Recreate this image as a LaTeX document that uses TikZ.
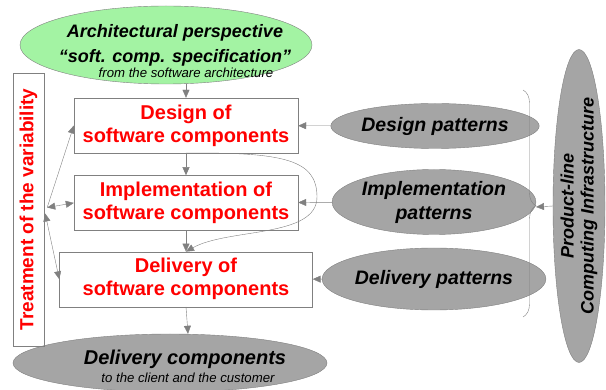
\documentclass[tikz,border=0pt]{standalone}
\usepackage{fontspec}
\setmainfont{Liberation Sans}
\usepackage{xcolor}
\usetikzlibrary{arrows.meta}
\usetikzlibrary{positioning, shapes.geometric, decorations.pathreplacing}

\definecolor{linegray}{RGB}{128,128,128}
\definecolor{patgray}{RGB}{165,165,165}
\definecolor{specgreen}{RGB}{163,243,163}

\begin{document}
\begin{tikzpicture}[x=1pt, y=-1pt,
        stagebox/.style={draw=linegray, minimum width=224pt, minimum height=55pt, inner sep=0pt,
            align=center, text=red, font=\bfseries\fontsize{20}{23}\selectfont},
        pattern/.style={ellipse, draw=linegray, fill=patgray, inner sep=0pt, align=center,
            font=\bfseries\itshape\fontsize{19.5}{24}\selectfont},
        headline/.style={align=center, inner sep=0pt, font=\bfseries\itshape\fontsize{18}{25}\selectfont},
        subline/.style={inner sep=0pt, font=\itshape\fontsize{13.2}{15}\selectfont},
        flow/.style={draw=linegray, -{Triangle[length=8pt, width=7pt]}},
        twoway/.style={draw=linegray, {Triangle[length=8pt, width=7pt]}-{Triangle[length=8pt, width=7pt]}},
    ]
    \useasboundingbox (0,0) rectangle (606,390);

    % architectural perspective (input)
    \node [ellipse, draw=linegray, fill=specgreen, minimum width=292pt, minimum height=78pt] (spec) at (166,45) {};
    \node [headline] (spectext) at (175,45) {Architectural perspective\\“soft. comp. specification”};
    \node [subline, anchor=base] (specsub) at (186,78) {from the software architecture};

    % the three stages
    \node [stagebox] (design) at (186,125.5) {Design of\\software components};
    \node [stagebox, below=22pt of design] (impl) {Implementation of\\software components};
    \node [stagebox, minimum width=253pt, below=21pt of impl] (deliv) {Delivery of\\software components};

    % delivered result
    \node [ellipse, draw=linegray, fill=patgray, minimum width=314pt, minimum height=58pt] (comps) at (170,363) {};
    \node [headline, font=\bfseries\itshape\fontsize{20}{25}\selectfont] (compstext) at (185,359.5) {Delivery components};
    \node [subline, anchor=base] (compssub) at (188,383) {to the client and the customer};

    % variability, drawn rotated
    \node [draw=linegray, rotate=90, minimum width=273pt, minimum height=31pt, inner sep=0pt,
        text=red, font=\bfseries\fontsize{19}{20}\selectfont] (treat) at (28.5,209.5) {Treatment of the variability};

    % patterns
    \node [pattern, minimum width=174pt, minimum height=45pt] (dpat) at (435,126) {Design patterns};
    \node [pattern, minimum width=172pt, minimum height=65pt] (ipat) at (434,202) {Implementation\\patterns};
    \node [pattern, minimum width=173pt, minimum height=62pt] (lpat) at (434,279) {Delivery patterns};

    % infrastructure and brace
    \node [pattern, rotate=90, minimum width=313pt, minimum height=42pt,
        font=\bfseries\itshape\fontsize{18}{20}\selectfont] (infra) at (579,206) {Product-line\\Computing Infrastructure};
    \coordinate (bracetop) at (523,90);
    \coordinate (bracebot) at (523,317);
    \coordinate (bracetip) at (536,207);
    \draw [linegray, decorate, decoration={brace, amplitude=13pt, aspect=0.51}] (bracetop) -- (bracebot);
    \draw [flow] (infra.north) -- (bracetip);

    % main flow
    \draw [flow] (design.north |- spec.south) -- (design.north);
    \draw [flow] (design) -- (impl);
    \draw [flow] (impl) -- (deliv);
    \draw [flow] (deliv.south) -- ([xshift=2pt]deliv.south |- comps.north);
    \draw [flow] (design.south) .. controls (285,152) and (317,160) .. (317,197)
        .. controls (317,238) and (228,228) .. (deliv.north); % skip the implementation

    % patterns into the stages
    \draw [flow] (dpat) -- (design);
    \draw [flow] (ipat) -- (impl);
    \draw [flow] (lpat) -- (deliv);

    % variability links
    \draw [flow] ([xshift=3pt, yshift=2pt]treat.south) -- (design.west);
    \draw [twoway] ([xshift=3pt, yshift=2pt]treat.south) -- (impl.west);
    \draw [twoway] ([xshift=1pt, yshift=-4pt]treat.south) -- (deliv.west);
\end{tikzpicture}
\end{document}
